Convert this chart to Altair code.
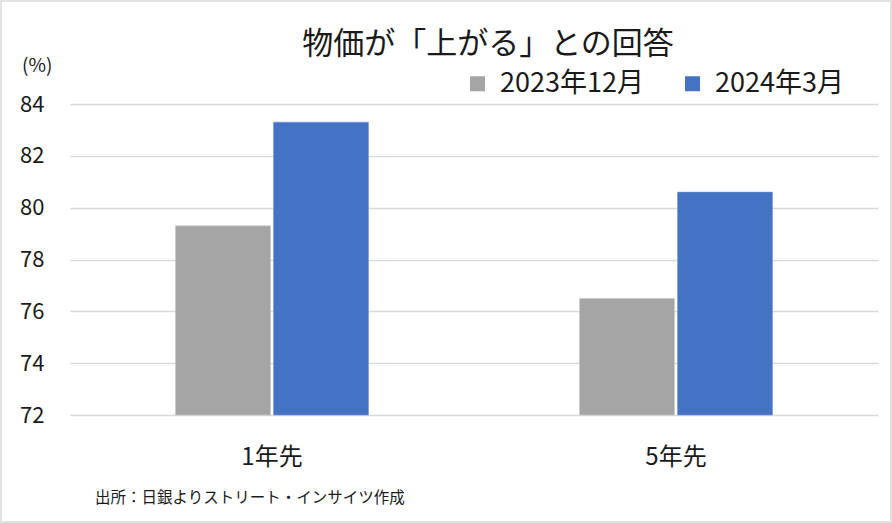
import altair as alt
import pandas as pd

categories = ["1年先", "5年先"]
series_names = ["2023年12月", "2024年3月"]
values_2023_12 = [79.3, 76.5]
values_2024_03 = [83.3, 80.6]
y_ticks = [72, 74, 76, 78, 80, 82, 84]
colors = ["#A5A5A5", "#4472C4"]

FONT = "Noto Sans CJK JP"

rows = []
for c, v in zip(categories, values_2023_12):
    rows.append({"cat": c, "series": series_names[0], "value": v})
for c, v in zip(categories, values_2024_03):
    rows.append({"cat": c, "series": series_names[1], "value": v})
df = pd.DataFrame(rows)

W, H = 808, 311

bars = alt.Chart(df).mark_bar(strokeWidth=1, strokeOpacity=0.6).encode(
    x=alt.X("cat:N", sort=categories,
            scale=alt.Scale(paddingInner=0.5223, paddingOuter=0.2611),
            axis=alt.Axis(title=None, labelAngle=0, labelFontSize=24, labelFont=FONT,
                          labelColor="#1a1a1a", domain=False, ticks=False,
                          labelPadding=30)),
    xOffset=alt.XOffset("series:N", sort=series_names,
                        scale=alt.Scale(paddingInner=0.0306, paddingOuter=0)),
    y=alt.Y("value:Q", scale=alt.Scale(domain=[72, 84], zero=False, nice=False),
            axis=alt.Axis(title=None, values=y_ticks, labelFontSize=22, labelFont=FONT,
                          labelColor="#1a1a1a", domain=False, ticks=False,
                          labelPadding=26, gridColor="#d9d9d9", gridWidth=1.5)),
    y2=alt.datum(72),
    color=alt.Color("series:N", sort=series_names,
                    scale=alt.Scale(domain=series_names, range=colors),
                    legend=alt.Legend(title=None, orient="none", direction="horizontal",
                                      legendX=394, legendY=-34, symbolType="square",
                                      symbolSize=225, symbolStrokeWidth=0,
                                      labelFontSize=27, labelFont=FONT,
                                      labelColor="#1a1a1a", labelOffset=9,
                                      columnPadding=35)),
    stroke=alt.Color("series:N", sort=series_names,
                     scale=alt.Scale(domain=series_names, range=["#c8c8c8", "#7a9ad6"]),
                     legend=None),
)

title = alt.Chart(pd.DataFrame({"t": ["物価が「上がる」との回答"]})).mark_text(
    font=FONT, fontSize=31, color="#1a1a1a", align="center", baseline="alphabetic"
).encode(text="t:N", x=alt.value(418), y=alt.value(-50))

unit = alt.Chart(pd.DataFrame({"t": ["(%)"]})).mark_text(
    font=FONT, fontSize=19, color="#1a1a1a", align="left", baseline="alphabetic"
).encode(text="t:N", x=alt.value(-48), y=alt.value(-32))

source = alt.Chart(pd.DataFrame({"t": ["出所：日銀よりストリート・インサイツ作成"]})).mark_text(
    font=FONT, fontSize=15.5, color="#1a1a1a", align="left", baseline="alphabetic"
).encode(text="t:N", x=alt.value(25), y=alt.value(399))

frame = alt.Chart(pd.DataFrame({"a": [0]})).mark_rect(
    fill=None, stroke="#d9d9d9", strokeWidth=1.5
).encode(x=alt.value(-69), x2=alt.value(821), y=alt.value(-103), y2=alt.value(418))

chart = alt.layer(frame, bars, title, unit, source).properties(
    width=W, height=H,
    padding={"left": 70, "top": 104, "right": 14, "bottom": 108},
    autosize=alt.AutoSizeParams(type="none"),
    background="white",
).configure_view(stroke=None).resolve_scale(color="independent")

chart.save("out.html", embed_options={"renderer": "svg", "actions": False})
